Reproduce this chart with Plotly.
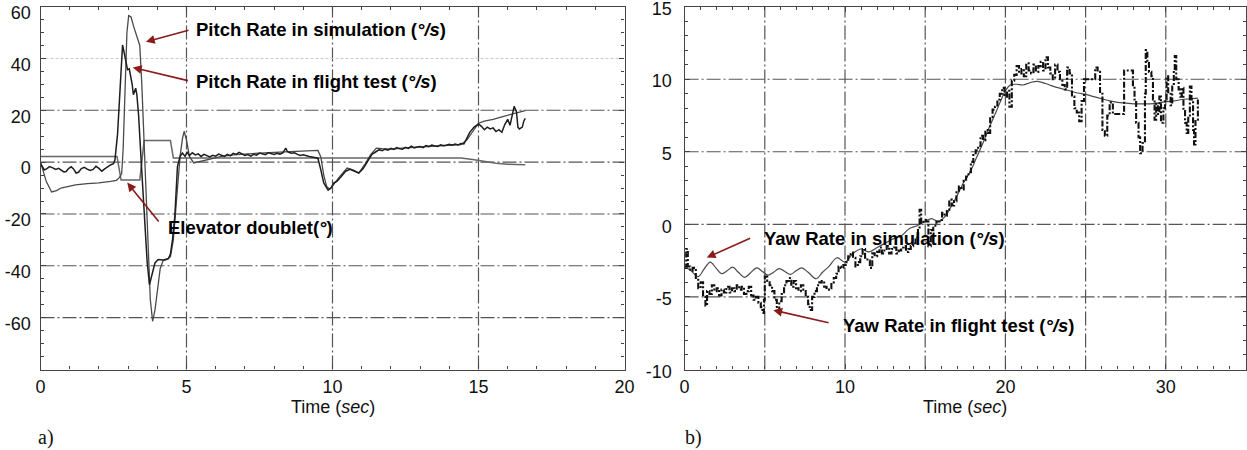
import plotly.graph_objects as go

# ---------------- data: panel a) pitch ----------------
pitch_sim_t = [0.0, 0.1, 0.2, 0.38, 0.55, 0.7, 0.9, 1.2, 1.6, 2.0, 2.4, 2.6, 2.7, 2.78, 2.83, 2.9, 2.96,
               3.02, 3.1, 3.2, 3.3, 3.4, 3.47, 3.56, 3.68, 3.76, 3.84, 3.92, 4.0, 4.1, 4.2, 4.32, 4.45,
               4.55, 4.66, 4.78, 4.86, 4.92, 5.0, 5.1, 5.25, 5.46, 5.8, 6.2, 6.6, 7.0, 7.5, 8.0, 8.5,
               9.0, 9.5, 9.6, 9.7, 9.8, 9.9, 10.05, 10.25, 10.5, 10.7, 10.9, 11.1, 11.3, 11.5, 11.7,
               12.0, 12.5, 13.0, 13.5, 14.0, 14.4, 14.6, 14.8, 15.0, 15.2, 15.5, 15.8, 16.1, 16.4, 16.6]
pitch_sim = [0, -3.5, -7.5, -11.5, -11, -10, -9.5, -8.8, -8.3, -8, -7.4, -7, -6, -4.4, 5, 35, 50,
             56.5, 56, 52, 48, 45, 30, 4.7, -27, -53, -61.4, -57, -50, -41, -38, -37.6, -36.5,
             -30, -14.4, 2.2, 9, 11.9, 8.5, 2.2, -0.3, 0.2, 1.2, 2.2, 2.8, 3.2, 3.5, 3.8, 4.1,
             4.3, 4.5, 2, -5, -9.4, -10.4, -8.5, -5.5, -2.3, -3, -4.2, -1, 2.8, 5.4, 5.2,
             5, 5.5, 5.8, 6.2, 6.5, 6.8, 8.5, 12, 15, 15.8, 16.5, 17.5, 18.5, 19.3, 19.9]

pitch_flt_t = [0.0, 0.05, 0.13, 0.22, 0.31, 0.42, 0.52, 0.62, 0.72, 0.8, 0.88, 0.96, 1.05, 1.13, 1.22,
               1.3, 1.4, 1.5, 1.6, 1.7, 1.8, 1.9, 2.0, 2.1, 2.2, 2.3, 2.41, 2.5, 2.55,
               2.64, 2.73, 2.81, 2.87, 2.93, 2.98, 3.04, 3.09, 3.14, 3.18, 3.22, 3.26, 3.3, 3.36,
               3.45, 3.55, 3.65, 3.73, 3.8, 3.92, 4.03, 4.2, 4.38, 4.45, 4.52, 4.6, 4.69, 4.78,
               4.86, 4.95, 5.02, 5.1, 5.2, 5.3, 5.4, 5.5, 5.6, 5.7, 5.8, 5.9, 6.0, 6.1, 6.2, 6.3,
               6.4, 6.5, 6.6, 6.7, 6.8, 6.9, 7.0, 7.1, 7.2, 7.3, 7.4, 7.5, 7.6, 7.7, 7.8, 7.9,
               8.0, 8.1, 8.2, 8.3, 8.4, 8.45, 8.5, 8.6, 8.7, 8.8, 8.9, 9.0, 9.1, 9.2, 9.3, 9.4,
               9.5, 9.6, 9.7, 9.85, 9.95, 10.05, 10.15, 10.3, 10.45, 10.6, 10.75, 10.9, 11.05,
               11.2, 11.35, 11.5, 11.6, 11.7, 11.8, 11.9, 12.0, 12.1, 12.2, 12.3, 12.4, 12.5,
               12.6, 12.7, 12.8, 12.9, 13.0, 13.1, 13.2, 13.3, 13.4, 13.5, 13.6, 13.7, 13.8,
               13.9, 14.0, 14.1, 14.2, 14.3, 14.4, 14.5, 14.6, 14.7, 14.85, 15.0, 15.1, 15.2,
               15.3, 15.4, 15.5, 15.6, 15.7, 15.8, 15.9, 16.0, 16.08, 16.15, 16.22, 16.3, 16.35,
               16.4, 16.5, 16.55, 16.6]
pitch_flt = [-0.5, -1.5, -3, -2.5, -1.7, -2.2, -2.8, -2.4, -3.0, -3.8, -3.6, -2.5, -1.8, -2.6, -4.2,
             -3.9, -2.5, -2.0, -2.7, -3.2, -2.8, -1.6, -2.4, -3.5, -2.6, -1.8, -1.0, -0.6, 0.9,
             11, 30.5, 45.2, 42, 38, 35.7, 36, 33.2, 30, 26, 27.5, 28.5, 26, 18,
             0, -20, -38, -47.3, -44, -38.9, -37.6, -37.8, -37.2, -35.5, -30, -20.9, -1.7, 2.2,
             3.5, 2.2, 3.8, 2.5, 3.6, 2.8, 3.2, 2.2, 3.0, 2.4, 2.0, 2.6, 2.3, 3.1, 2.7, 2.2,
             3.0, 2.4, 3.4, 3.0, 3.8, 3.3, 2.6, 2.9, 2.3, 3.0, 2.7, 3.5, 3.2, 2.9, 3.6, 3.3,
             3.0, 3.4, 3.1, 3.6, 5.4, 4.2, 3.8, 3.4, 3.6, 3.0, 2.6, 2.8, 2.4, 2.2, 2.0, 1.6,
             1.5, -3, -8, -10.8, -10, -8, -7.4, -5.5, -3.5, -2.8, -3.5, -4.2, -2.5,
             0.5, 3.0, 4.1, 4.8, 4.4, 5.0, 4.6, 5.3, 4.9, 5.6, 5.2, 5.0, 5.7,
             5.3, 6.2, 5.5, 5.8, 6.0, 5.6, 6.4, 6.0, 6.6, 6.2, 6.0, 6.7, 6.3,
             6.5, 6.9, 6.5, 7.0, 6.6, 7.2, 7.0, 9.5, 11.5, 13.5, 14.7, 13.8, 12.5,
             13.5, 12.8, 13.2, 11.8, 12.5, 11.5, 14.5, 16.5, 14.2, 18.5, 21.5, 19.5, 13.5,
             12.8, 13.5, 15.8, 16.9]

elev_t = [0.0, 2.62, 2.76, 3.4, 3.55, 4.45, 4.55, 14.4, 14.8, 15.2, 15.6, 16.0, 16.6]
elev = [2.2, 2.2, -6.9, -6.9, 8.3, 8.3, 1.6, 1.6, 1.0, 0.2, -0.4, -0.8, -1.0]

# ---------------- data: panel b) yaw ----------------
yaw_sim_t = [0.0, 0.4, 0.85, 1.2, 1.6, 1.95, 2.3, 2.65, 3.0, 3.35, 3.75, 4.1, 4.5, 4.85, 5.2, 5.55,
             5.9, 6.25, 6.6, 6.95, 7.3, 7.7, 8.2, 8.6, 9.0, 9.5, 10.0, 10.5, 11.0, 11.5, 12.0,
             12.5, 13.0, 13.5, 14.0, 14.5, 15.0, 15.4, 15.8, 16.2, 16.6, 17.0, 17.4, 17.8, 18.2,
             18.6, 19.0, 19.4, 19.7, 20.0, 20.3, 20.7, 21.1, 21.5, 22.0, 22.5, 23.0, 23.5, 24.0,
             24.5, 25.0, 25.5, 26.0, 26.5, 27.0, 27.5, 28.0, 28.5, 29.0, 29.5, 30.0, 30.5, 31.0,
             31.5, 32.0]
yaw_sim = [-2.9, -3.2, -3.6, -3.1, -2.6, -3.0, -3.4, -3.2, -2.95, -3.3, -3.65, -3.35, -3.0, -3.25,
           -3.5, -3.3, -3.05, -3.25, -3.45, -3.2, -3.0, -3.3, -3.75, -3.3, -2.9, -2.3, -2.6, -2.0,
           -1.7, -1.9, -1.6, -1.3, -1.0, -0.8, -0.3, -0.1, 0.2, 0.4, 0.2, 0.5, 1.2, 2.0, 2.9, 3.6,
           4.6, 5.6, 6.7, 7.7, 8.5, 9.2, 9.6, 9.65, 9.6, 9.75, 9.85, 9.7, 9.5, 9.35, 9.2, 9.05,
           8.95, 8.8, 8.65, 8.5, 8.4, 8.35, 8.3, 8.3, 8.3, 8.35, 8.45, 8.5, 8.6, 8.65, 8.7]

yaw_flt_t = [0.0, 0.1, 0.2, 0.35, 0.5, 0.7, 0.85, 1.0, 1.15, 1.3, 1.4, 1.55, 1.7, 1.85, 2.0, 2.15,
             2.3, 2.45, 2.6, 2.8, 2.95, 3.1, 3.25, 3.4, 3.55, 3.7, 3.85, 4.0, 4.15, 4.3, 4.45, 4.6,
             4.75, 4.85, 4.95, 5.0, 5.15, 5.3, 5.45, 5.6, 5.75, 5.9, 6.05, 6.2, 6.35, 6.5, 6.65,
             6.8, 6.95, 7.1, 7.25, 7.4, 7.55, 7.7, 7.8, 7.95, 8.1, 8.25, 8.4, 8.55, 8.7, 8.85,
             9.0, 9.15, 9.3, 9.45, 9.6, 9.75, 9.9, 10.05, 10.2, 10.35, 10.5, 10.65, 10.8, 10.95,
             11.1, 11.25, 11.4, 11.55, 11.7, 11.85, 12.0, 12.15, 12.3, 12.45, 12.6, 12.75, 12.9,
             13.05, 13.2, 13.35, 13.5, 13.65, 13.8, 13.95, 14.1, 14.25, 14.4, 14.55, 14.65,
             14.75, 14.9, 15.05, 15.2, 15.35, 15.5, 15.7, 15.9, 16.05, 16.2, 16.35, 16.5, 16.65,
             16.8, 16.95, 17.1, 17.25, 17.4, 17.55, 17.7, 17.85, 18.0, 18.15, 18.3, 18.45, 18.6,
             18.75, 18.9, 19.05, 19.2, 19.35, 19.5, 19.65, 19.8, 19.95, 20.1, 20.25, 20.4, 20.55,
             20.7, 20.85, 21.0, 21.15, 21.3, 21.45, 21.6, 21.75, 21.9, 22.05, 22.2, 22.35, 22.5,
             22.65, 22.8, 22.95, 23.1, 23.25, 23.4, 23.55, 23.7, 23.85, 24.0, 24.15, 24.3, 24.45,
             24.6, 24.75, 24.9, 25.1, 25.4, 25.6, 25.75, 25.9, 26.05, 26.2, 26.35, 26.5, 26.7,
             27.0, 27.3, 27.4, 27.6, 27.8, 27.95, 28.05, 28.15, 28.3, 28.4, 28.55, 28.7, 28.75,
             28.85, 28.95, 29.1, 29.2, 29.3, 29.4, 29.5, 29.6, 29.7, 29.85, 29.95, 30.05, 30.15,
             30.3, 30.4, 30.5, 30.56, 30.65, 30.8, 30.9, 31.0, 31.1, 31.2, 31.3, 31.4, 31.5, 31.6,
             31.7, 31.76, 31.85, 32.0]
yaw_flt = [-3.0, -1.7, -2.9, -3.2, -3.0, -3.7, -4.4, -4.0, -5.0, -5.6, -4.6, -4.8, -4.2, -4.6, -4.4,
           -4.9, -4.5, -4.7, -4.3, -4.7, -4.4, -4.6, -4.2, -4.5, -4.3, -4.8, -4.6, -4.3, -4.9, -5.2,
           -5.0, -5.4, -5.7, -6.1, -5.2, -3.6, -3.9, -4.2, -4.6, -5.2, -5.9, -5.3, -4.8, -4.2, -3.9,
           -3.7, -4.3, -3.9, -4.4, -4.6, -4.2, -4.5, -5.0, -5.5, -5.9, -5.0, -4.6, -4.2, -4.0, -3.9,
           -4.3, -4.5, -4.4, -4.0, -3.7, -3.4, -2.9, -3.0, -2.8, -2.6, -2.2, -1.95, -2.3, -2.9, -2.6,
           -2.2, -1.7, -2.3, -2.5, -3.0, -2.0, -2.2, -1.9, -1.6, -2.0, -1.7, -1.5, -2.0, -1.7, -1.6,
           -2.0, -1.8, -1.6, -1.5, -1.9, -1.7, -1.5, -1.3, -0.9, -0.3, 1.0, 0.1, 0.3, 0.2, -1.5,
           -0.4, -0.1, 0.2, 0.3, 0.8, 0.6, 1.0, 1.7, 1.3, 1.6, 2.2, 2.6, 2.4, 3.0, 3.3, 3.6, 4.3,
           4.9, 5.1, 5.4, 6.1, 5.8, 6.5, 6.3, 7.4, 7.9, 8.1, 8.6, 9.0, 9.4, 8.8, 9.2, 8.1, 9.9,
           10.3, 10.9, 10.4, 10.7, 10.2, 11.1, 10.6, 10.4, 11.0, 10.5, 10.9, 11.2, 10.6, 11.5,
           10.8, 10.4, 10.0, 11.0, 10.5, 10.0, 9.6, 9.3, 10.8, 10.4, 8.8, 8.0, 7.7, 7.1, 8.5,
           10.0, 10.0, 10.0, 10.8, 10.5, 9.0, 6.5, 6.1, 7.5, 8.4, 7.6, 7.6, 7.6, 10.6, 10.6, 10.6,
           9.5, 8.6, 7.0, 6.0, 4.9, 5.6, 9.0, 12.0, 11.2, 10.5, 10.2, 8.6, 7.2, 8.3, 7.6, 8.8,
           7.0, 8.0, 8.6, 10.2, 9.0, 8.2, 9.5, 10.6, 11.6, 10.0, 9.3, 8.8, 9.4, 7.8, 7.0, 6.3,
           7.5, 9.5, 8.6, 6.5, 5.5, 7.2, 8.6]

# ---------------- axes / ticks / grid ----------------
a_xticks = [0, 5, 10, 15, 20]
a_yticks = [60, 40, 20, 0, -20, -40, -60]
a_xgrid = [5, 10, 15]
a_ygrid_dark = [20, 0, -20, -40, -60]
a_ygrid_light = [40]
b_xticks = [0, 10, 20, 30]
b_yticks = [15, 10, 5, 0, -5, -10]
b_xgrid = [5, 10, 15, 20, 25, 30]
b_ygrid = [10, 5, 0, -5]

W, H = 1247, 450
FONT = "Liberation Sans, Arial, sans-serif"
AX = "#444444"
GRID = "#555555"
GDASH = "14px,3px,2px,3px"

fig = go.Figure()
fig.add_trace(go.Scatter(x=elev_t, y=elev, mode="lines", xaxis="x", yaxis="y",
                         line=dict(color="#666666", width=1.5), name="Elevator doublet"))
fig.add_trace(go.Scatter(x=pitch_sim_t, y=pitch_sim, mode="lines", xaxis="x", yaxis="y",
                         line=dict(color="#4a4a4a", width=1.3), name="Pitch sim"))
fig.add_trace(go.Scatter(x=pitch_flt_t, y=pitch_flt, mode="lines", xaxis="x", yaxis="y",
                         line=dict(color="#1e1e1e", width=1.5), name="Pitch flight"))
fig.add_trace(go.Scatter(x=yaw_sim_t, y=yaw_sim, mode="lines", xaxis="x2", yaxis="y2",
                         line=dict(color="#4a4a4a", width=1.2, shape="spline"), name="Yaw sim"))
fig.add_trace(go.Scatter(x=yaw_flt_t, y=yaw_flt, mode="lines", xaxis="x2", yaxis="y2",
                         line=dict(color="#111111", width=2.1, dash="6px,2px,2px,2px", shape="hv"),
                         name="Yaw flight"))

def axis_common(tickvals, minor_dtick, rng, domain, anchor, standoff, shift=0):
    return dict(range=rng, domain=domain, anchor=anchor, tickvals=tickvals, automargin=False,
                ticktext=[str(v) for v in tickvals], showline=True, linecolor=AX, linewidth=1.3,
                mirror="ticks", ticks="inside", ticklen=5, tickwidth=1, tickcolor=AX,
                minor=dict(dtick=minor_dtick, ticks="inside", ticklen=3, tickcolor=AX),
                showgrid=False, zeroline=False, fixedrange=True,
                ticklabelstandoff=standoff, ticklabelshift=shift, ticklabeloverflow="allow",
                tickfont=dict(family=FONT, size=18, color="#111111"))

ydom = [1 - 369.5 / H, 1 - 6.6 / H]
fig.update_layout(
    width=W, height=H, margin=dict(l=0, r=0, t=0, b=0, autoexpand=False),
    paper_bgcolor="white", plot_bgcolor="white", showlegend=False,
    xaxis=axis_common(a_xticks, 1, [0, 20], [40.5 / W, 624.5 / W], "y", 1),
    yaxis=axis_common(a_yticks, 5, [-80, 60], ydom, "x", 5, 6),
    xaxis2=axis_common(b_xticks, 1, [0, 35], [684.6 / W, 1246 / W], "y2", 1),
    yaxis2=axis_common(b_yticks, 1, [-10, 15], ydom, "x2", 8, 2),
)

shapes = []
for v in a_xgrid:
    shapes.append(dict(type="line", xref="x", yref="y domain", x0=v, x1=v, y0=0, y1=1,
                       line=dict(color=GRID, width=1.2, dash=GDASH), layer="below"))
for v in a_ygrid_dark:
    shapes.append(dict(type="line", xref="x domain", yref="y", x0=0, x1=1, y0=v, y1=v,
                       line=dict(color=GRID, width=1.1, dash=GDASH), layer="below"))
for v in a_ygrid_light:
    shapes.append(dict(type="line", xref="x domain", yref="y", x0=0, x1=1, y0=v, y1=v,
                       line=dict(color="#c8c8c8", width=1, dash="3px,2px"), layer="below"))
for v in b_xgrid:
    shapes.append(dict(type="line", xref="x2", yref="y2 domain", x0=v, x1=v, y0=0, y1=1,
                       line=dict(color=GRID, width=1.2, dash=GDASH), layer="below"))
for v in b_ygrid:
    shapes.append(dict(type="line", xref="x2 domain", yref="y2", x0=0, x1=1, y0=v, y1=v,
                       line=dict(color=GRID, width=1.1, dash=GDASH), layer="below"))
fig.update_layout(shapes=shapes)

ARROW = "#8b1a1a"
LBL = dict(family=FONT, size=18.5, color="#000000")

def label(text, x, y, xr, yr):
    fig.add_annotation(text="<b>" + text + "</b>", x=x, y=y, xref=xr, yref=yr,
                       xanchor="left", yanchor="middle", showarrow=False, font=LBL)

def arrow(x, y, ax, ay, xr, yr):
    fig.add_annotation(text="", x=x, y=y, ax=ax, ay=ay, xref=xr, yref=yr, axref=xr, ayref=yr,
                       showarrow=True, arrowhead=2, arrowsize=1.1, arrowwidth=1.6,
                       arrowcolor=ARROW, standoff=0, startstandoff=0)

label("Pitch Rate in simulation (<i>°/s</i>)", 5.27, 51.0, "x", "y")
arrow(3.61, 46.4, 5.12, 51.0, "x", "y")
label("Pitch Rate in flight test (<i>°/s</i>)", 5.24, 31.1, "x", "y")
arrow(3.16, 36.5, 5.10, 31.3, "x", "y")
label("Elevator doublet(<i>°</i>)", 4.30, -25.1, "x", "y")
arrow(2.97, -7.9, 4.09, -23.5, "x", "y")
label("Yaw Rate in simulation (<i>°/s</i>)", 4.81, -0.98, "x2", "y2")
arrow(1.38, -2.29, 4.18, -0.92, "x2", "y2")
label("Yaw Rate in flight test (<i>°/s</i>)", 9.75, -6.95, "x2", "y2")
arrow(5.53, -5.91, 9.07, -6.81, "x2", "y2")

for cx in [332.5 / W, 965 / W]:
    fig.add_annotation(text="Time (<i>sec</i>)", x=cx, y=1 - 407 / H, xref="paper", yref="paper",
                       xanchor="center", yanchor="middle", showarrow=False,
                       font=dict(family=FONT, size=18, color="#111111"))
for txt, cx in [("a)", 46 / W), ("b)", 693 / W)]:
    fig.add_annotation(text=txt, x=cx, y=1 - 437 / H, xref="paper", yref="paper",
                       xanchor="center", yanchor="middle", showarrow=False,
                       font=dict(family="Liberation Serif, Times New Roman, serif", size=20,
                                 color="#111111"))

fig.write_html("out.html")
